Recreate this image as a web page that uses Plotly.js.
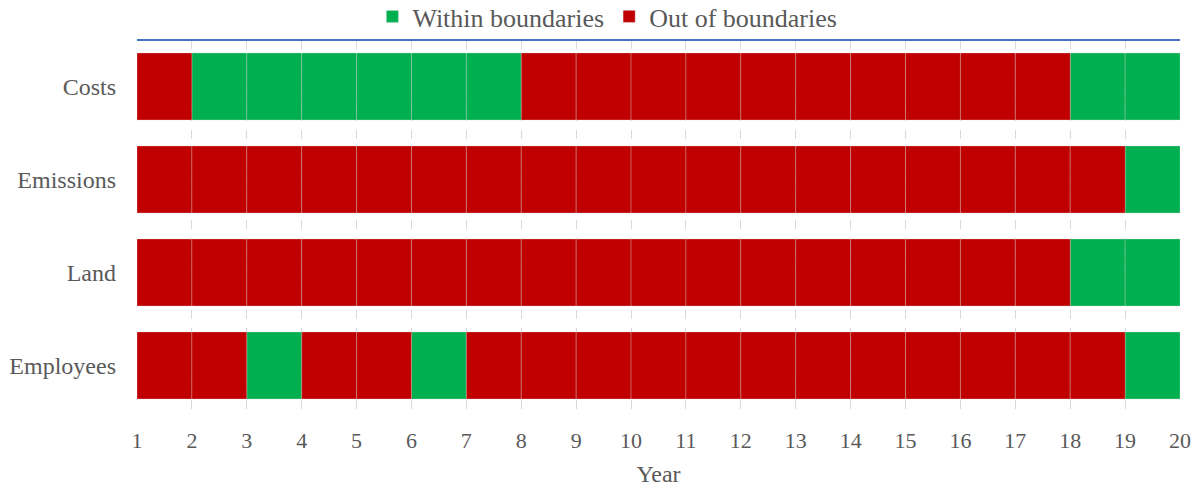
<!DOCTYPE html>
<html>
<head>
<meta charset="utf-8">
<script src="https://cdn.plot.ly/plotly-3.0.1.min.js"></script>
<style>html,body{margin:0;padding:0;background:#fff;}#chart{width:1198px;height:487px;}</style>
</head>
<body>
<div id="chart"></div>
<script>
// Categories (bottom to top in plot order)
const categories = ["Employees", "Land", "Emissions", "Costs"];
// Year segment starts (each segment spans one year: start -> start+1)
const years = [1,2,3,4,5,6,7,8,9,10,11,12,13,14,15,16,17,18,19];
// Status per year segment: 1 = within boundaries, 0 = out of boundaries
const costsStatus     = [0,1,1,1,1,1,1,0,0,0,0,0,0,0,0,0,0,1,1];
const emissionsStatus = [0,0,0,0,0,0,0,0,0,0,0,0,0,0,0,0,0,0,1];
const landStatus      = [0,0,0,0,0,0,0,0,0,0,0,0,0,0,0,0,0,1,1];
const employeesStatus = [0,0,1,0,0,1,0,0,0,0,0,0,0,0,0,0,0,0,1];
const seriesNames = ["Within boundaries", "Out of boundaries"];
const xTicks = [1,2,3,4,5,6,7,8,9,10,11,12,13,14,15,16,17,18,19,20];

const statusByCat = {
  "Costs": costsStatus,
  "Emissions": emissionsStatus,
  "Land": landStatus,
  "Employees": employeesStatus
};

function buildTrace(flag, name, color) {
  const y = [], x = [], base = [];
  categories.forEach(cat => {
    statusByCat[cat].forEach((s, i) => {
      if (s === flag) { y.push(cat); base.push(years[i]); x.push(1); }
    });
  });
  return {
    type: "bar", orientation: "h", name: name,
    y: y, x: x, base: base,
    marker: { color: color, line: { color: "rgba(215,215,215,0.3)", width: 1 } },
    hoverinfo: "skip"
  };
}

const traces = [
  buildTrace(1, seriesNames[0], "#00B050"),
  buildTrace(0, seriesNames[1], "#C00000")
];

const font = { family: "'Liberation Serif', 'Times New Roman', serif", color: "#595959" };

const layout = {
  width: 1198, height: 487,
  margin: { l: 137, r: 18, t: 40, b: 75, autoexpand: false },
  paper_bgcolor: "#fff", plot_bgcolor: "#fff",
  barmode: "overlay",
  bargap: 0.28,
  showlegend: true,
  legend: {
    orientation: "h", x: 0.451, xanchor: "center", y: 1.0, yanchor: "bottom",
    bgcolor: "rgba(0,0,0,0)",
    font: Object.assign({}, font, { size: 26 }), traceorder: "normal",
    itemwidth: 30, tracegroupgap: 0
  },
  xaxis: {
    range: [1, 20], tickvals: xTicks, ticktext: xTicks.map(String),
    showgrid: true, gridcolor: "#d9d9d9", griddash: "dash", gridwidth: 1,
    zeroline: false, showline: false, ticks: "",
    tickfont: Object.assign({}, font, { size: 22 }),
    ticklabelstandoff: 13,
    title: { text: "Year", font: Object.assign({}, font, { size: 24 }), standoff: 17 },
    fixedrange: true
  },
  yaxis: {
    categoryorder: "array", categoryarray: categories,
    range: [-0.5, 3.5],
    showgrid: false, zeroline: false, showline: false, ticks: "",
    tickfont: Object.assign({}, font, { size: 24 }),
    ticklabelstandoff: 20,
    fixedrange: true
  },
  shapes: [{
    type: "line", xref: "paper", yref: "paper", x0: 0, x1: 1, y0: 1, y1: 1,
    line: { color: "#4472C4", width: 2 }
  }]
};

Plotly.newPlot("chart", traces, layout, { staticPlot: true, displayModeBar: false });
</script>
</body>
</html>
